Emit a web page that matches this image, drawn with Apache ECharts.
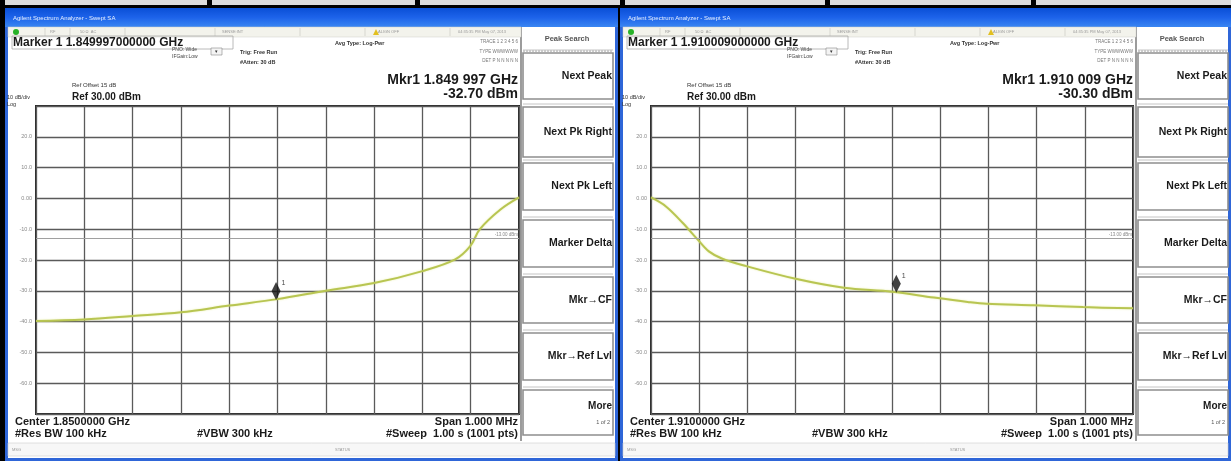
<!DOCTYPE html>
<html><head><meta charset="utf-8">
<script src="https://cdn.jsdelivr.net/npm/echarts@6/dist/echarts.min.js"></script>
<style>html,body{margin:0;padding:0;background:#000;}#c{width:1231px;height:461px;}</style>
</head><body><div id="c"></div>
<script>
// ---------------- data ----------------
const freqMinKHz = -500, freqMaxKHz = 500, freqDivKHz = 100;   // offset from centre, 10 divisions
const refLevel = 30, bottomLevel = -70, dbPerDiv = 10;
const leftFreqKHz  = [-500,-400,-300,-200,-100,0,100,200,300,368,399,419,461,500];
const leftLevel    = [-39.8,-39.3,-38.2,-37.0,-34.8,-32.7,-30.0,-27.5,-23.6,-19.8,-15.5,-10.0,-3.7,0.3];
const rightFreqKHz = [-500,-469,-434,-403,-380,-352,-302,-200,-100,0,87,157,196,295,396,500];
const rightLevel   = [0.3,-2.6,-8.0,-13.4,-17.2,-19.6,-22.0,-26.1,-29.0,-30.3,-32.2,-33.6,-34.2,-34.7,-35.3,-35.7];
const markerFreqKHz = [-3, 9];
const markerLevel   = [-32.70, -30.30];
const displayLineDbm = -13;
const displayLineLabel = '-13.00 dBm';
const centerFreq    = ['1.8500000 GHz', '1.9100000 GHz'];
const markerFull    = ['1.849997000000 GHz', '1.910009000000 GHz'];
const markerReadout = ['1.849 997 GHz', '1.910 009 GHz'];
const markerDbm     = ['-32.70 dBm', '-30.30 dBm'];
const softkeys = ['Next Peak','Next Pk Right','Next Pk Left','Marker Delta','Mkr\u2192CF','Mkr\u2192Ref Lvl','More'];
const windowTitle = 'Agilent Spectrum Analyzer - Swept SA';

// ---------------- layout ----------------
const panelOffsets = [0, 615];
const F = '"Liberation Sans", Arial, sans-serif';
const els = [];
function R(x,y,w,h,fill,stroke,lw,z){els.push({type:'rect',shape:{x:x,y:y,width:w,height:h},style:{fill:fill||'none',stroke:stroke||null,lineWidth:lw||0},z:z===undefined?-10:z,silent:true});}
function L(x1,y1,x2,y2,stroke,lw,dash,z){els.push({type:'line',shape:{x1:x1,y1:y1,x2:x2,y2:y2},style:{stroke:stroke,lineWidth:lw,lineDash:dash||null},z:z===undefined?-9:z,silent:true});}
function T(x,y,text,font,fill,align){els.push({type:'text',x:x,y:y,style:{text:text,font:font,fill:fill||'#1a1a1a',align:align||'left',verticalAlign:'middle'},z:60,silent:true});}

// top table strip
const sepX = [207,415,620,825,1031];
R(0,0,1231,461,'#000');
let prev = 5;
sepX.concat([1236]).forEach(function(s){ R(prev,0,s-prev,5,'#dcdcdc'); prev = s+5; });

panelOffsets.forEach(function(o, i){
  const ww = i === 0 ? 613 : 611;
  // window frame
  R(o+5, 8, ww, 460, '#2f66d8');
  // title bar gradient
  els.push({type:'rect',shape:{x:o+5,y:8,width:ww,height:19},style:{fill:new echarts.graphic.LinearGradient(0,0,0,1,[{offset:0,color:'#0a4fd6'},{offset:0.5,color:'#1d63ea'},{offset:1,color:'#3a86f2'}])},z:-9,silent:true});
  T(o+13, 18, windowTitle, '6px '+F, '#e8f0ff');
  // client area
  R(o+8, 27, ww-6, 431, '#ffffff');
  // toolbar row
  R(o+8, 27, 513, 10, '#f3f3ec', '#cfcfc8', 0.5, -8);
  els.push({type:'circle',shape:{cx:o+16,cy:32,r:3},style:{fill:'#27b227'},z:-7,silent:true});
  [['RF',50],['50 \u03a9  AC',80],['SENSE:INT',222],['ALIGN OFF',378],['04:35:35 PM May 07, 2013',458]].forEach(function(t){T(o+t[1],32,t[0],'4px '+F,'#9a9a9a');});
  [45,70,125,215,300,365,450].forEach(function(x){L(o+x,28,o+x,36,'#c8c8c0',0.6,null,-7);});
  els.push({type:'polygon',shape:{points:[[o+373,35],[o+376,29],[o+379,35]]},style:{fill:'#e2c020'},z:-7,silent:true});

  // header info
  R(o+12, 36, 221, 13, null, '#a8a8a8', 0.8, -7);
  T(o+13, 43, 'Marker 1 ' + markerFull[i], 'bold 12px '+F, '#1a1a1a');
  T(o+172, 50, 'PNO: Wide', '5px '+F, '#444');
  R(o+211, 48, 11, 7, '#f4f4f4', '#888', 0.6, -7);
  T(o+216.5, 51.5, '\u25be', '5px '+F, '#333', 'center');
  T(o+172, 57, 'IFGain:Low', '5px '+F, '#444');
  T(o+240, 52, 'Trig: Free Run', 'bold 5.5px '+F, '#333');
  T(o+240, 62, '#Atten: 30 dB', 'bold 5.5px '+F, '#333');
  T(o+335, 43, 'Avg Type: Log-Pwr', 'bold 5.5px '+F, '#333');
  T(o+518, 42, 'TRACE 1 2 3 4 5 6', '4.5px '+F, '#777', 'right');
  T(o+518, 52, 'TYPE WWWWWW', '4.5px '+F, '#777', 'right');
  T(o+518, 61, 'DET P N N N N N', '4.5px '+F, '#777', 'right');
  T(o+518, 80, 'Mkr1 ' + markerReadout[i], 'bold 14px '+F, '#1a1a1a', 'right');
  T(o+518, 94, markerDbm[i], 'bold 14px '+F, '#1a1a1a', 'right');
  T(o+72, 85, 'Ref Offset 15 dB', '6px '+F, '#333');
  T(o+72, 97, 'Ref 30.00 dBm', 'bold 10px '+F, '#1a1a1a');
  T(o+7, 97, '10 dB/div', '5.5px '+F, '#333');
  T(o+7, 104, 'Log', '5.5px '+F, '#333');

  // footer
  T(o+15, 422, 'Center ' + centerFreq[i], 'bold 11px '+F, '#1a1a1a');
  T(o+15, 434, '#Res BW 100 kHz', 'bold 11px '+F, '#1a1a1a');
  T(o+197, 434, '#VBW 300 kHz', 'bold 11px '+F, '#1a1a1a');
  T(o+518, 422, 'Span 1.000 MHz', 'bold 11px '+F, '#1a1a1a', 'right');
  T(o+518, 434, '#Sweep  1.00 s (1001 pts)', 'bold 11px '+F, '#1a1a1a', 'right');
  // status bar
  R(o+8, 443, ww-6, 13, '#f7f7f7', '#cfcfcf', 0.6, -8);
  T(o+12, 450, 'MSG', '4px '+F, '#999');
  T(o+335, 450, 'STATUS', '4px '+F, '#999');

  // softkey column
  L(o+521, 27, o+521, 441, '#9c9c9c', 2);
  T(o+567, 39, 'Peak Search', 'bold 7.5px '+F, '#555', 'center');
  L(o+523, 51, o+613, 51, '#9c9c9c', 1, [2,1]);
  const tops = [53,107,163,220,277,333,390];
  const heights = [46,50,47,47,46,47,45];
  softkeys.forEach(function(s, k){
    R(o+523, tops[k], 90, heights[k], '#ffffff', '#8e8e8e', 1.6, -8);
    L(o+523, tops[k]-3, o+613, tops[k]-3, '#c4c4c4', 1);
    if (k === softkeys.length-1) {
      T(o+612, tops[k]+16, s, 'bold 10px '+F, '#1a1a1a', 'right');
      T(o+610, tops[k]+32, '1 of 2', '5.5px '+F, '#555', 'right');
    } else {
      T(o+612, tops[k]+heights[k]/2, s, 'bold 10.5px '+F, '#1a1a1a', 'right');
    }
  });
});

// ---------------- chart ----------------
const grids = [{left:36, top:106, width:483, height:308}, {left:651, top:106, width:482, height:308}];
const traces = [[leftFreqKHz, leftLevel], [rightFreqKHz, rightLevel]];
function pairs(xs, ys){ return xs.map(function(x,k){return [x, ys[k]];}); }
const diamond = 'path://M0,-10 L4.5,0 L0,10 L-4.5,0 Z';

const option = {
  animation: false,
  backgroundColor: 'transparent',
  graphic: {elements: els},
  grid: grids.map(function(g){ return Object.assign({show:true, backgroundColor:'#ffffff', borderColor:'#2a2a2a', borderWidth:2, z:0}, g); }),
  xAxis: grids.map(function(g, i){ return {
    type:'value', gridIndex:i, min:freqMinKHz, max:freqMaxKHz, interval:freqDivKHz,
    axisLabel:{show:false}, axisTick:{show:false}, axisLine:{show:false},
    splitLine:{show:true, lineStyle:{color:'#5a5a5a', width:1.3}}
  }; }),
  yAxis: grids.map(function(g, i){ return {
    type:'value', gridIndex:i, min:bottomLevel, max:refLevel, interval:dbPerDiv,
    axisTick:{show:false}, axisLine:{show:false},
    axisLabel:{show:true, margin:4, fontSize:5.5, color:'#8a8a8a', fontFamily:'Liberation Sans',
      formatter:function(v){ if (v === refLevel || v === bottomLevel) return ''; return v === 0 ? '0.00' : v.toFixed(1); }},
    splitLine:{show:true, lineStyle:{color:'#5a5a5a', width:1.3}}
  }; }),
  series: []
};
traces.forEach(function(t, i){
  option.series.push({
    type:'line', xAxisIndex:i, yAxisIndex:i, data:pairs(t[0], t[1]), smooth:0.35, showSymbol:false,
    lineStyle:{color:'#b8c552', width:2, shadowColor:'rgba(220,230,120,0.6)', shadowBlur:2}, z:3,
    markLine:{silent:true, symbol:['none','none'], animation:false,
      lineStyle:{color:'#a0a0a0', width:1, type:'solid'},
      label:{show:true, position:'insideEndTop', formatter:displayLineLabel, fontSize:4.5, color:'#888', distance:1},
      data:[{yAxis:displayLineDbm}]}
  });
  option.series.push({
    type:'scatter', xAxisIndex:i, yAxisIndex:i, data:[[markerFreqKHz[i], markerLevel[i]]],
    symbol:diamond, symbolSize:[9,18], symbolOffset:[0,-8], itemStyle:{color:'#111'}, z:5,
    label:{show:true, formatter:'1', position:'right', distance:1, offset:[0,-8], fontSize:7, color:'#111', fontFamily:'Liberation Sans'}
  });
});

const chart = echarts.init(document.getElementById('c'), null, {renderer:'canvas'});
chart.setOption(option);
</script>
</body></html>
